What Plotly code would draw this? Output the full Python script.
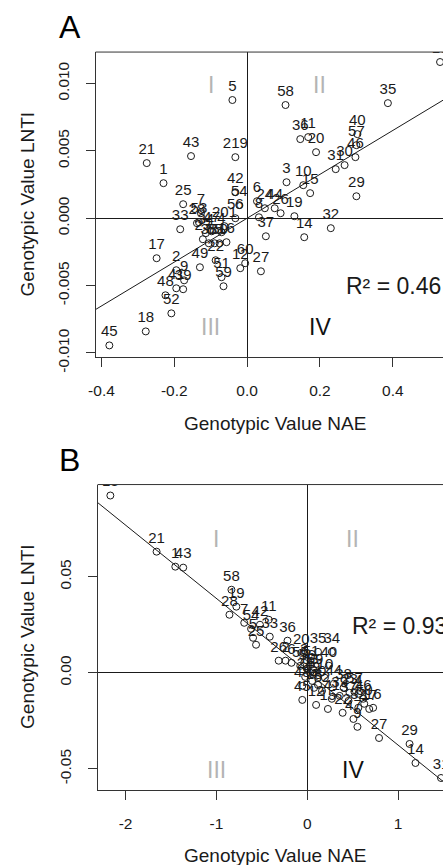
import plotly.graph_objects as go

# ---------------- Panel A data (NAE vs LNTI) ----------------
a_labels = ["5", "58", "35", "13", "21", "43", "219", "1", "25", "42", "54", "56",
            "6", "24", "44", "26", "19", "8", "3", "10", "15", "36", "11", "20",
            "40", "57", "46", "30", "31", "29", "32", "14", "37", "33", "53", "7",
            "201", "17", "2", "9", "41", "39", "48", "52", "18", "45", "49", "28",
            "34", "47", "4", "23", "38", "55", "50", "16", "12", "22", "51", "27",
            "59", "60"]
a_nae = [-0.0405, 0.1054, 0.3865, 0.5297, -0.2757, -0.1541, -0.0324, -0.2297, -0.1757,
         -0.0324, -0.0216, -0.0324, 0.0270, 0.0486, 0.0757, 0.0919, 0.1297, 0.0324,
         0.1081, 0.1541, 0.1730, 0.1459, 0.1676, 0.1892, 0.3027, 0.3000, 0.2973,
         0.2676, 0.2432, 0.3000, 0.2297, 0.1568, 0.0514, -0.1838, -0.1324, -0.1270,
         -0.0622, -0.2486, -0.1946, -0.1730, -0.1946, -0.1757, -0.2243, -0.2081,
         -0.2784, -0.3784, -0.1297, -0.1378, -0.1135, -0.0973, -0.0703, -0.1216,
         -0.1054, -0.0892, -0.0757, -0.0568, -0.0189, -0.0865, -0.0703, 0.0378,
         -0.0649, -0.0054]
a_lnti = [0.00877, 0.00840, 0.00854, 0.01159, 0.00409, 0.00461, 0.00453, 0.00260, 0.00104,
          0.00193, 0.00097, 0.00000, 0.00126, 0.00074, 0.00074, 0.00037, 0.00015, 0.00007,
          0.00267, 0.00245, 0.00186, 0.00587, 0.00602, 0.00490, 0.00624, 0.00542, 0.00453,
          0.00394, 0.00364, 0.00163, -0.00074, -0.00141, -0.00134, -0.00082, -0.00030,
          0.00037, -0.00059, -0.00297, -0.00386, -0.00461, -0.00520, -0.00527, -0.00572,
          -0.00706, -0.00840, -0.00944, -0.00364, -0.00037, -0.00111, -0.00097, -0.00104,
          -0.00156, -0.00186, -0.00186, -0.00186, -0.00178, -0.00371, -0.00312, -0.00438,
          -0.00394, -0.00505, -0.00334]
a_fit_intercept = 0.0
a_fit_slope = 0.01628
a_r2_text = "R² = 0.46"

# ---------------- Panel B data (NAE vs LNTI) ----------------
b_labels = ["13", "21", "1", "43", "58", "28", "19", "7", "54", "42", "11", "5", "25",
            "33", "36", "26", "6", "2", "3", "20", "35", "34", "40", "10", "44", "57",
            "46", "16", "27", "29", "14", "31", "45", "12", "15", "22", "47", "9", "17",
            "56", "53", "24", "49", "48", "18", "52", "41", "39", "37", "32", "50", "38",
            "23", "4", "30", "55", "51", "59"]
b_nae = [-2.167, -1.658, -1.452, -1.365, -0.834, -0.856, -0.780, -0.693, -0.618, -0.520,
         -0.423, -0.596, -0.563, -0.412, -0.217, -0.314, -0.173, -0.238, -0.033, -0.065,
         0.119, 0.271, 0.238, 0.195, 0.293, 0.520, 0.618, 0.726, 0.791, 1.127, 1.192,
         1.473, -0.054, 0.098, 0.228, 0.390, 0.509, 0.553, 0.683, 0.000, 0.033, -0.022,
         0.054, -0.054, 0.076, 0.163, 0.271, 0.358, 0.455, 0.563, 0.628, 0.401, 0.466,
         0.563, 0.119, -0.076, 0.043, 0.087]
b_lnti = [0.0922, 0.0630, 0.0552, 0.0547, 0.0432, 0.0302, 0.0344, 0.0260, 0.0229, 0.0250,
          0.0276, 0.0182, 0.0146, 0.0188, 0.0167, 0.0063, 0.0052, 0.0063, 0.0052, 0.0104,
          0.0109, 0.0109, 0.0037, -0.0026, -0.0057, -0.0099, -0.0135, -0.0182, -0.0339,
          -0.0370, -0.0469, -0.0547, -0.0141, -0.0167, -0.0188, -0.0208, -0.0240, -0.0281,
          -0.0188, 0.0021, 0.0000, -0.0021, -0.0042, -0.0068, -0.0078, -0.0094, -0.0135,
          -0.0120, -0.0146, -0.0182, -0.0161, -0.0078, -0.0104, -0.0109, -0.0063, 0.0036,
          0.0042, 0.0000]
b_fit_intercept = 0.00057
b_fit_slope = -0.03813
b_r2_text = "R² = 0.93"

# ---------------- Tick labels ----------------
a_xtickvals = [-0.4, -0.2, 0.0, 0.2, 0.4]
a_xticktext = ["-0.4", "-0.2", "0.0", "0.2", "0.4"]
a_ytickvals = [-0.010, -0.005, 0.0, 0.005, 0.010]
a_yticktext = ["-0.010", "-0.005", "0.000", "0.005", "0.010"]
b_xtickvals = [-2, -1, 0, 1]
b_xticktext = ["-2", "-1", "0", "1"]
b_ytickvals = [-0.05, 0.0, 0.05]
b_yticktext = ["-0.05", "0.00", "0.05"]

quadrants = ["I", "II", "III", "IV"]
quad_colors = ["#b4b4b4", "#b4b4b4", "#b4b4b4", "#111111"]
a_quad_x = [-0.1, 0.2, -0.1, 0.2]
a_quad_y = [0.0099, 0.0099, -0.0081, -0.0081]
b_quad_x = [-1.0, 0.5, -1.0, 0.5]
b_quad_y = [0.0698, 0.0698, -0.0505, -0.0505]

x_title = "Genotypic Value NAE"
y_title = "Genotypic Value LNTI"

# ---------------- Layout geometry ----------------
REF_W, REF_H = 443, 865       # reference picture size; positions below are read from it
W, H = 443, 881               # figure size (the page is captured slightly taller)
FONT = "Liberation Sans, Arial, Helvetica, sans-serif"
INK = "#1a1a1a"


def px(ref_x):
    return ref_x / REF_W


def py(ref_y):
    return 1 - ref_y / REF_H


a_box = dict(left=90, top=52, bottom=357)
b_box = dict(left=92, top=484, bottom=789)

a_xrange = [-0.4162, 0.5378]
a_yrange = [-0.01033, 0.01233]
b_xrange = [-2.308, 1.495]
b_yrange = [-0.0609, 0.0979]

fig = go.Figure()

point_style = dict(mode="markers+text", textposition="top center",
                   marker=dict(symbol="circle-open", size=7, color=INK, line=dict(width=1, color=INK)),
                   textfont=dict(family=FONT, size=15, color=INK), showlegend=False,
                   hoverinfo="skip", cliponaxis=True)

fig.add_trace(go.Scatter(x=a_nae, y=a_lnti, text=a_labels, xaxis="x", yaxis="y", **point_style))
fig.add_trace(go.Scatter(x=b_nae, y=b_lnti, text=b_labels, xaxis="x2", yaxis="y2", **point_style))

# regression lines across the full plot width
fig.add_trace(go.Scatter(x=a_xrange, y=[a_fit_intercept + a_fit_slope * v for v in a_xrange],
                         mode="lines", line=dict(color=INK, width=1), xaxis="x", yaxis="y",
                         showlegend=False, hoverinfo="skip"))
fig.add_trace(go.Scatter(x=b_xrange, y=[b_fit_intercept + b_fit_slope * v for v in b_xrange],
                         mode="lines", line=dict(color=INK, width=1), xaxis="x2", yaxis="y2",
                         showlegend=False, hoverinfo="skip"))

axis_common = dict(showgrid=False, zeroline=True, zerolinecolor=INK, zerolinewidth=1,
                   showline=True, linecolor="#333333", linewidth=1, ticks="outside",
                   ticklen=9, tickwidth=1, tickcolor="#333333",
                   tickfont=dict(family=FONT, size=15.5, color=INK), fixedrange=True)

fig.update_layout(
    width=W, height=H, margin=dict(l=0, r=0, t=0, b=0),
    paper_bgcolor="white", plot_bgcolor="white", showlegend=False,
    xaxis=dict(domain=[px(a_box["left"]), 1], range=a_xrange, anchor="y",
               tickmode="array", tickvals=a_xtickvals, ticktext=a_xticktext,
               ticklabelstandoff=10, **axis_common),
    yaxis=dict(domain=[py(a_box["bottom"]), py(a_box["top"])], range=a_yrange, anchor="x",
               tickmode="array", tickvals=a_ytickvals, ticktext=a_yticktext,
               tickangle=-90, ticklabelstandoff=10, **axis_common),
    xaxis2=dict(domain=[px(b_box["left"]), 1], range=b_xrange, anchor="y2",
                tickmode="array", tickvals=b_xtickvals, ticktext=b_xticktext,
                ticklabelstandoff=10, **axis_common),
    yaxis2=dict(domain=[py(b_box["bottom"]), py(b_box["top"])], range=b_yrange, anchor="x2",
                tickmode="array", tickvals=b_ytickvals, ticktext=b_yticktext,
                tickangle=-90, ticklabelstandoff=10, **axis_common),
)

# top border of each box
for xr, yr in (("x domain", "y domain"), ("x2 domain", "y2 domain")):
    fig.add_shape(type="line", xref=xr, yref=yr, x0=0, x1=1, y0=1, y1=1,
                  line=dict(color="#333333", width=1))

ann = []
centered = dict(showarrow=False, xanchor="center", yanchor="middle")
# quadrant labels
for i, q in enumerate(quadrants):
    ann.append(dict(x=a_quad_x[i], y=a_quad_y[i], xref="x", yref="y", text=q, **centered,
                    font=dict(family=FONT, size=23, color=quad_colors[i])))
    ann.append(dict(x=b_quad_x[i], y=b_quad_y[i], xref="x2", yref="y2", text=q, **centered,
                    font=dict(family=FONT, size=23, color=quad_colors[i])))
# R² texts
ann.append(dict(x=0.265, y=-0.0050, xref="x", yref="y", text=a_r2_text, showarrow=False,
                xanchor="left", yanchor="middle", font=dict(family=FONT, size=23, color=INK)))
ann.append(dict(x=0.466, y=0.0245, xref="x2", yref="y2", text=b_r2_text, showarrow=False,
                xanchor="left", yanchor="middle", font=dict(family=FONT, size=23, color=INK)))
# panel letters
ann.append(dict(x=px(64), y=py(27), xref="paper", yref="paper", text="A", **centered,
                font=dict(family=FONT, size=32, color="#000")))
ann.append(dict(x=px(64), y=py(459), xref="paper", yref="paper", text="B", **centered,
                font=dict(family=FONT, size=32, color="#000")))
# axis titles
for top, bottom, xt in ((a_box["top"], a_box["bottom"], 423), (b_box["top"], b_box["bottom"], 855)):
    ann.append(dict(x=px(272), y=py(xt), xref="paper", yref="paper", text=x_title,
                    **centered, font=dict(family=FONT, size=19, color=INK)))
    ann.append(dict(x=px(21), y=py((top + bottom) / 2), xref="paper", yref="paper",
                    text=y_title, textangle=-90, **centered,
                    font=dict(family=FONT, size=19, color=INK)))
fig.update_layout(annotations=ann)

fig.write_html("out.html", config={"displayModeBar": False},
               post_script="document.body.style.margin='0';document.body.style.overflow='hidden';")
